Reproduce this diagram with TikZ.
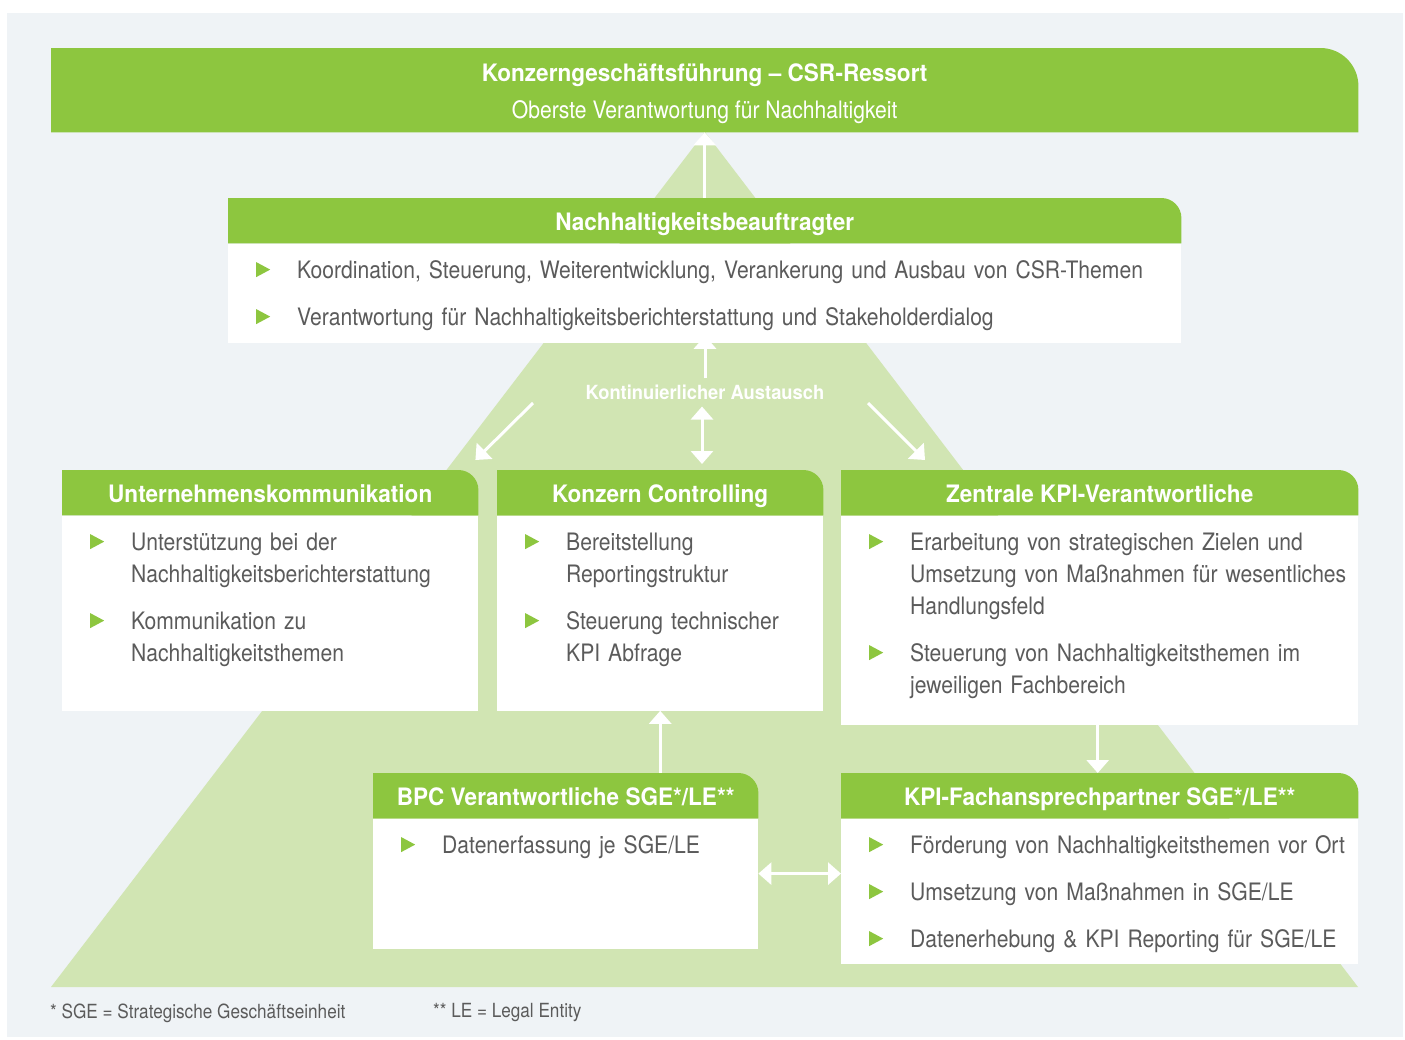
\documentclass[tikz,border=0pt]{standalone}
\usepackage{fontspec}
\setmainfont{TeX Gyre Heros}[FakeStretch=0.88]
\newfontfamily\headfamily{TeX Gyre Heros}[FakeStretch=0.94]
\usetikzlibrary{arrows.meta}
\definecolor{kgreen}{HTML}{8DC63F}
\definecolor{pyrgreen}{HTML}{D1E5B3}
\definecolor{bggray}{HTML}{EFF3F6}
\definecolor{txtgray}{HTML}{5B5B5B}
\pgfdeclarelayer{back}
\pgfdeclarelayer{tabs}
\pgfsetlayers{back,tabs,main}
\newcommand{\bodyf}{\fontsize{24}{32}\selectfont}
\newcommand{\titlef}{\headfamily\bfseries\fontsize{24}{30}\selectfont}
% bullet item with green triangle
\newcommand{\bul}[1]{\par\noindent\hangindent=41pt\hangafter=1%
  \makebox[41pt][l]{\tikz[baseline=0pt]\fill[kgreen] (0pt,1pt) -- (0pt,16pt) -- (14pt,8.5pt) -- cycle;}\strut#1\par}
\newcommand{\gap}{\vspace{15pt}}
% green tab with one rounded corner (top right)
\newcommand{\tabfill}[2]{%
  \begin{pgfonlayer}{tabs}
    \fill[kgreen] (#1.south west) -- (#1.north west) -- ([xshift=-#2]#1.north east)
      arc[start angle=90,end angle=0,radius=#2] -- (#1.south east) -- cycle;
  \end{pgfonlayer}}
\tikzset{
  hdr/.style={anchor=north west, minimum height=45pt, inner sep=0pt, text=white, font=\titlef,
    text height=20pt, text depth=0pt},
  body/.style={anchor=north west, fill=white, inner sep=0pt},
  txt/.style={anchor=north west, inner sep=0pt, text=txtgray, font=\bodyf, align=left, text width=#1},
  arr/.style={draw=white, line width=3pt, -{Triangle[width=22pt,length=13pt]}},
  arrs/.style={draw=white, line width=3pt, {Triangle[width=22pt,length=13pt]}-{Triangle[width=22pt,length=13pt]}},
}

\begin{document}
\begin{tikzpicture}[x=1pt,y=1pt]
  \useasboundingbox (0,0) rectangle (1405,-1039);
  \begin{pgfonlayer}{back}
    \fill[bggray] (7,-13) rectangle (1403,-1037);
    \fill[pyrgreen] (705,-132) -- (51,-987) -- (1358,-987) -- cycle;
  \end{pgfonlayer}

  % top level
  \node[anchor=north west, minimum width=1307pt, minimum height=84pt, inner sep=0pt] (top) at (51,-48) {};
  \tabfill{top}{38pt}
  \node[text=white, align=center, inner sep=0pt, font=\fontsize{24}{37}\selectfont] (toptxt) at ([yshift=-4pt]top.center)
    {{\titlef Konzerngeschäftsführung – CSR-Ressort}\\Oberste Verantwortung für Nachhaltigkeit};

  % Nachhaltigkeitsbeauftragter
  \node[hdr, minimum width=953pt] (nbh) at (228,-198) {Nachhaltigkeitsbeauftragter};
  \tabfill{nbh}{20pt}
  \node[body, minimum width=953pt, minimum height=99pt] (nbb) at (nbh.south west) {};
  \node[txt=910pt] (nbt) at ([shift={(28,-2.5)}]nbh.south west)
    {\bul{Koordination, Steuerung, Weiterentwicklung, Verankerung und Ausbau von CSR-Themen}\gap
     \bul{Verantwortung für Nachhaltigkeitsberichterstattung und Stakeholderdialog}};

  % middle row
  \node[hdr, minimum width=416pt] (ukh) at (62,-470) {Unternehmenskommunikation};
  \tabfill{ukh}{20pt}
  \node[body, minimum width=416pt, minimum height=195pt] (ukb) at (ukh.south west) {};
  \node[txt=380pt] (ukt) at ([shift={(28,-2.5)}]ukh.south west)
    {\bul{Unterstützung bei der\newline Nachhaltigkeitsberichterstattung}\gap
     \bul{Kommunikation zu\newline Nachhaltigkeitsthemen}};

  \node[hdr, minimum width=326pt] (kch) at (497,-470) {Konzern Controlling};
  \tabfill{kch}{20pt}
  \node[body, minimum width=326pt, minimum height=195pt] (kcb) at (kch.south west) {};
  \node[txt=290pt] (kct) at ([shift={(28,-2.5)}]kch.south west)
    {\bul{Bereitstellung\newline Reportingstruktur}\gap
     \bul{Steuerung technischer\newline KPI Abfrage}};

  \node[hdr, minimum width=517pt] (zkh) at (841,-470) {Zentrale KPI-Verantwortliche};
  \tabfill{zkh}{20pt}
  \node[body, minimum width=517pt, minimum height=209pt] (zkb) at (zkh.south west) {};
  \node[txt=485pt] (zkt) at ([shift={(28,-2.5)}]zkh.south west)
    {\bul{Erarbeitung von strategischen Zielen und\newline Umsetzung von Maßnahmen für wesentliches\newline Handlungsfeld}\gap
     \bul{Steuerung von Nachhaltigkeitsthemen im\newline jeweiligen Fachbereich}};

  % bottom row
  \node[hdr, minimum width=385pt] (bph) at (373,-773) {BPC Verantwortliche SGE*/LE**};
  \tabfill{bph}{20pt}
  \node[body, minimum width=385pt, minimum height=130pt] (bpb) at (bph.south west) {};
  \node[txt=350pt] (bpt) at ([shift={(28,-2.5)}]bph.south west)
    {\bul{Datenerfassung je SGE/LE}};

  \node[hdr, minimum width=517pt] (kfh) at (841,-773) {KPI-Fachansprechpartner SGE*/LE**};
  \tabfill{kfh}{20pt}
  \node[body, minimum width=517pt, minimum height=145pt] (kfb) at (kfh.south west) {};
  \node[txt=485pt] (kft) at ([shift={(28,-2.5)}]kfh.south west)
    {\bul{Förderung von Nachhaltigkeitsthemen vor Ort}\gap
     \bul{Umsetzung von Maßnahmen in SGE/LE}\gap
     \bul{Datenerhebung \& KPI Reporting für SGE/LE}};

  % exchange label and arrows
  \node[font=\headfamily\bfseries\fontsize{19.5}{24}\selectfont, text=white, inner sep=0pt] (aus) at (705,-392) {Kontinuierlicher Austausch};
  \coordinate (dl) at (533,-403);
  \coordinate (dr) at (868,-403);

  \draw[arr] (nbh.north) -- (top.south);
  \draw[arr, shorten <=6pt, shorten >=-7pt] (aus.north) -- (aus.north |- nbb.south);
  \draw[arrs, shorten <=7pt, shorten >=6pt] ([xshift=-3pt]aus.south) -- ([xshift=-3pt]aus.south |- kch.north);
  \draw[arr] (dl) -- ([shift={(-3,10)}]ukh.north east);
  \draw[arr] (dr) -- ([shift={(84,10)}]zkh.north west);
  \draw[arr] (kcb.south |- bph.north) -- (kcb.south);
  \draw[arr] ([xshift=-2pt]zkb.south) -- ([xshift=-2pt]zkb.south |- kfh.north);
  \draw[arrs] ([yshift=10pt]bpb.east) -- ([yshift=10pt]bpb.east -| kfb.west);

  % footnotes
  \node[anchor=west, font=\fontsize{19.5}{22}\selectfont, text=txtgray, inner sep=0pt] (fn1) at (50,-1013) {* SGE = Strategische Geschäftseinheit};
  \node[anchor=west, font=\fontsize{19.5}{22}\selectfont, text=txtgray, inner sep=0pt] (fn2) at (433,-1013) {** LE = Legal Entity};
\end{tikzpicture}
\end{document}
